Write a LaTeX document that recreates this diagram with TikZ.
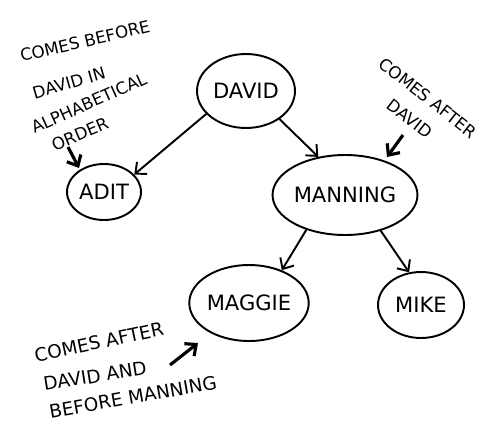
\documentclass[tikz,border=0pt]{standalone}
\usepackage{fontspec}
\setmainfont{DejaVu Sans}
\usetikzlibrary{arrows.meta,shapes.geometric}

\begin{document}
\begin{tikzpicture}[x=0.02cm,y=-0.02cm,
    person/.style={draw,ellipse,line width=1.1pt,inner sep=0pt,font=\fontsize{12}{14}\selectfont},
    note/.style={inner sep=0pt,font=\fontsize{9.5}{11}\selectfont},
    edge/.style={line width=1.1pt,-{Straight Barb[length=5pt,width=9pt]}},
    pointer/.style={line width=1.8pt,-{Straight Barb[length=5pt,width=9pt]}}]
        \useasboundingbox (0,0) rectangle (502,429);
        \node[person,minimum width=1.96cm,minimum height=1.48cm] (david) at (246,91) {DAVID};
        \node[person,minimum width=1.48cm,minimum height=1.12cm] (adit) at (104,192) {ADIT};
        \node[person,minimum width=2.8cm,minimum height=1.6cm] (manning) at (345,195) {MANNING};
        \node[person,minimum width=2.36cm,minimum height=1.52cm] (maggie) at (249,303) {MAGGIE};
        \node[person,minimum width=1.72cm,minimum height=1.32cm] (mike) at (421,305) {MIKE};
        \draw[edge] (david.210) -- (adit.30);
        \draw[edge] (david.-40) -- (manning.125);
        \draw[edge] (manning.222) -- (maggie.45);
        \draw[edge] (manning.-45) -- (mike.110);
        \begin{scope}
          \node[note,rotate=13] (before1) at (85,41) {COMES BEFORE};
          \node[note,rotate=16] (before2) at (69,83) {DAVID IN};
          \node[note,rotate=24] (before3) at (89,103) {ALPHABETICAL};
          \node[note,rotate=23] (before4) at (80,134) {ORDER};
          \coordinate (p1) at (68,147);
          \coordinate (q1) at (79,168);
          \draw[pointer] (p1) -- (q1);
        \end{scope}
        \begin{scope}
          \node[note,rotate=-38] (after1) at (428,98) {COMES AFTER};
          \node[note,rotate=-38] (after2) at (410,119) {DAVID};
          \coordinate (p2) at (403,135);
          \coordinate (q2) at (387,157);
          \draw[pointer] (p2) -- (q2);
        \end{scope}
        \begin{scope}[note/.append style={font=\fontsize{10.5}{12}\selectfont}]
          \node[note,rotate=12] (between1) at (99,342) {COMES AFTER};
          \node[note,rotate=9] (between2) at (95,376) {DAVID AND};
          \node[note,rotate=10] (between3) at (133,397) {BEFORE MANNING};
          \coordinate (p3) at (170,365);
          \coordinate (q3) at (198,343);
          \draw[pointer] (p3) -- (q3);
        \end{scope}
      \end{tikzpicture}
\end{document}
